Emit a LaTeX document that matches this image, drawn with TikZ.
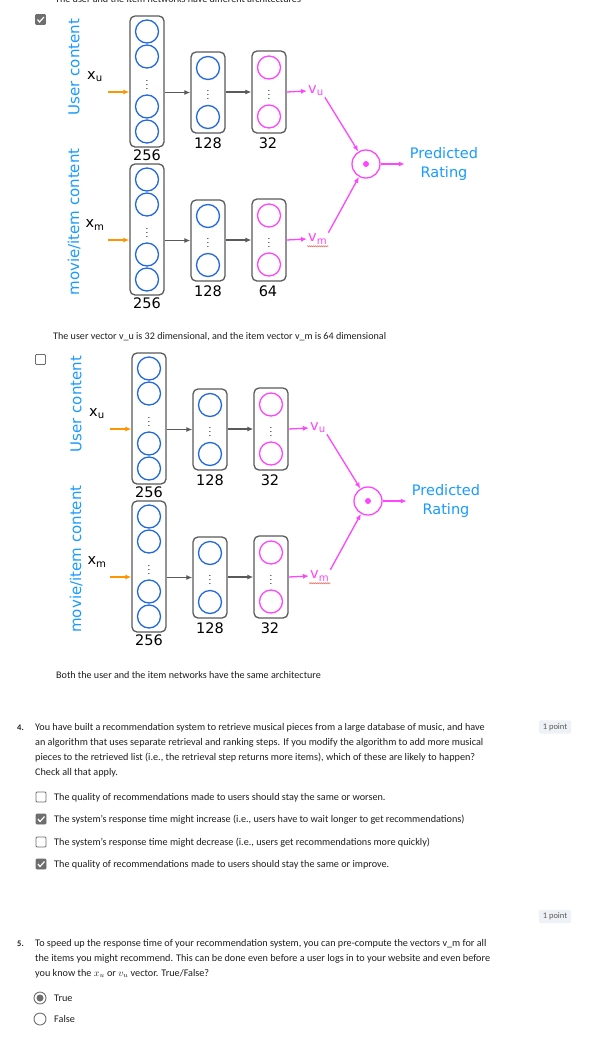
\documentclass[tikz,border=0pt]{standalone}
\usepackage{fontspec}
\setmainfont{Carlito}
\newfontfamily\dejavu{DejaVu Sans}
\usetikzlibrary{positioning,arrows.meta,decorations.pathmorphing}
\definecolor{nblue}{RGB}{35,105,220}
\definecolor{nmag}{RGB}{255,70,255}
\definecolor{norange}{RGB}{255,150,0}
\definecolor{lblue}{RGB}{25,155,255}
\definecolor{boxgray}{RGB}{90,90,90}
\definecolor{txt}{RGB}{31,31,31}
\definecolor{ckgray}{RGB}{110,110,110}
\definecolor{badgebg}{RGB}{238,241,245}
\definecolor{spell}{RGB}{240,120,110}

\begin{document}
\begin{tikzpicture}[x=1pt,y=-1pt,>=Latex,
  layer/.style={draw=boxgray,line width=1.3pt,rounded corners=5pt,minimum width=34pt,inner sep=0pt},
  unit/.style={circle,draw=#1,line width=1.3pt,minimum size=23pt,inner sep=0pt},
  vdot/.style={inner sep=0pt,font=\fontsize{9}{9}\selectfont},
  lbl/.style={font=\dejavu\fontsize{14.5}{19}\selectfont,inner sep=1pt},
  side/.style={font=\dejavu\fontsize{15}{17}\selectfont,text=lblue,rotate=90},
  flow/.style={draw=#1,line width=1.3pt,-{Latex[length=6pt,width=5pt]}},
  qtext/.style={anchor=base west,font=\fontsize{10.2}{12}\selectfont,text=txt,inner sep=0pt},
  note/.style={anchor=base west,font=\fontsize{10.1}{12}\selectfont,text=txt,inner sep=0pt},
  ckbox/.style={draw=ckgray,line width=0.8pt,rounded corners=1pt,minimum size=10pt,inner sep=0pt},
  ckon/.style={ckbox,fill=ckgray},
  radio/.style={circle,draw=ckgray,line width=0.9pt,minimum size=12pt,inner sep=0pt},
  badge/.style={fill=badgebg,rounded corners=2pt,text=boxgray,font=\fontsize{8.5}{10}\selectfont,inner xsep=4pt,inner ysep=3pt}]
  \fill[white] (0,0) rectangle (611,1053);
  \useasboundingbox (0,0) rectangle (611,1053);

  \node[note] at (55,2.5) {The user and the item networks have different architectures};

  \foreach \dx/\dy/\dm/\k in {0/0/64/a,2/337/32/b}{
    \begin{scope}[shift={(\dx,\dy)}]
      \node[side] at (74,67) {User content};
      \node[side] at (74,222) {movie/item content};
      \foreach \n/\c/\d in {u/92/32,m/240/\dm}{
        \node[layer,minimum height=131pt] (\n1\k) at (147,\c-10.5) {};
        \foreach \o in {-50,-25,25,50} \node[unit=nblue] at (147,\c-10.5+\o) {};
        \node[vdot] at (147,\c-10) {$\vdots$};
        \node[lbl] at (147,\c+63) {256};
        \node[layer,minimum height=81pt] (\n2\k) at (208,\c+0.5) {};
        \foreach \o in {-24.5,24.5} \node[unit=nblue] at (208,\c+0.5+\o) {};
        \node[vdot] at (208,\c) {$\vdots$};
        \node[lbl] at (208,\c+51) {128};
        \node[layer,minimum height=82pt] (\n3\k) at (269,\c) {};
        \foreach \o in {-24.5,24.5} \node[unit=nmag] at (269,\c+\o) {};
        \node[vdot] at (269,\c) {$\vdots$};
        \node[lbl] at (268,\c+51) {\d};
        \node[lbl] at (95,\c-15) {x\textsubscript{\n}};
        \coordinate (x\n\k) at (108,\c);
        \node[lbl,text=nmag,anchor=west] (v\n\k) at (307,\c-1) {v\textsubscript{\n}};
        \draw[flow=norange] (x\n\k) -- (\n1\k.west |- x\n\k);
        \draw[flow=boxgray] (\n1\k.east |- \n2\k.west) -- (\n2\k.west);
        \draw[flow=boxgray] (\n2\k.east |- \n3\k.west) -- (\n3\k.west);
        \draw[flow=nmag] (\n3\k.east) -- (v\n\k.west);
      }
      \node[circle,draw=nmag,line width=1.3pt,minimum size=28pt,inner sep=0pt] (dot\k) at (366,164) {};
      \fill[nmag] (dot\k.center) circle (3pt);
      \node[lbl,text=lblue,align=center,inner xsep=5pt] (rate\k) at (444,164) {Predicted\\Rating};
      \draw[flow=nmag] (vu\k.south east) -- (dot\k);
      \draw[flow=nmag] (vm\k.north east) -- (dot\k);
      \draw[flow=nmag] (dot\k) -- (rate\k);
      \draw[spell,line width=0.6pt,decorate,decoration={snake,amplitude=0.5pt,segment length=2pt}]
        ([yshift=-1pt]vm\k.south west) -- ([yshift=-1pt]vm\k.south east);
    \end{scope}
  }

  \node[ckon] (c1) at (40.5,19.5) {};
  \draw[white,line width=1.2pt] ([shift={(-3,0)}]c1.center) -- ([shift={(-1,2.5)}]c1.center) -- ([shift={(3.5,-2.5)}]c1.center);
  \node[note] at (53,339) {The user vector v\_u is 32 dimensional, and the item vector v\_m is 64 dimensional};
  \node[ckbox] (c2) at (40.5,359.5) {};
  \node[note] at (56,678) {Both the user and the item networks have the same architecture};

  \node[qtext,font=\bfseries\fontsize{8.5}{10}\selectfont] at (17,730) {4.};
  \node[qtext] at (35,730) {You have built a recommendation system to retrieve musical pieces from a large database of music, and have};
  \node[qtext] at (35,745) {an algorithm that uses separate retrieval and ranking steps. If you modify the algorithm to add more musical};
  \node[qtext] at (35,760) {pieces to the retrieved list (i.e., the retrieval step returns more items), which of these are likely to happen?};
  \node[qtext] at (35,775) {Check all that apply.};
  \node[badge] (p4) at (555,727) {1 point};

  \node[ckbox] (o1) at (41,797) {};
  \node[ckon] (o2) at (41,819) {};
  \node[ckbox] (o3) at (41,842) {};
  \node[ckon] (o4) at (41,864) {};
  \foreach \o in {o2,o4}
    \draw[white,line width=1.2pt] ([shift={(-3,0)}]\o.center) -- ([shift={(-1,2.5)}]\o.center) -- ([shift={(3.5,-2.5)}]\o.center);
  \node[qtext] at (54,800) {The quality of recommendations made to users should stay the same or worsen.};
  \node[qtext] at (54,822) {The system’s response time might increase (i.e., users have to wait longer to get recommendations)};
  \node[qtext] at (54,845) {The system’s response time might decrease (i.e., users get recommendations more quickly)};
  \node[qtext] at (54,867) {The quality of recommendations made to users should stay the same or improve.};

  \node[badge] (p5) at (555,916.5) {1 point};
  \node[qtext,font=\bfseries\fontsize{8.5}{10}\selectfont] at (17,946) {5.};
  \node[qtext] at (35,946) {To speed up the response time of your recommendation system, you can pre-compute the vectors v\_m for all};
  \node[qtext] at (35,961) {the items you might recommend. This can be done even before a user logs in to your website and even before};
  \node[qtext] at (35,976) {you know the $x_u$ or $v_u$ vector. True/False?};

  \node[radio] (r1) at (40,998) {};
  \fill[ckgray] (r1.center) circle (3.5pt);
  \node[radio] (r2) at (40,1019) {};
  \node[qtext] at (54,1001) {True};
  \node[qtext] at (54,1022) {False};
\end{tikzpicture}
\end{document}
